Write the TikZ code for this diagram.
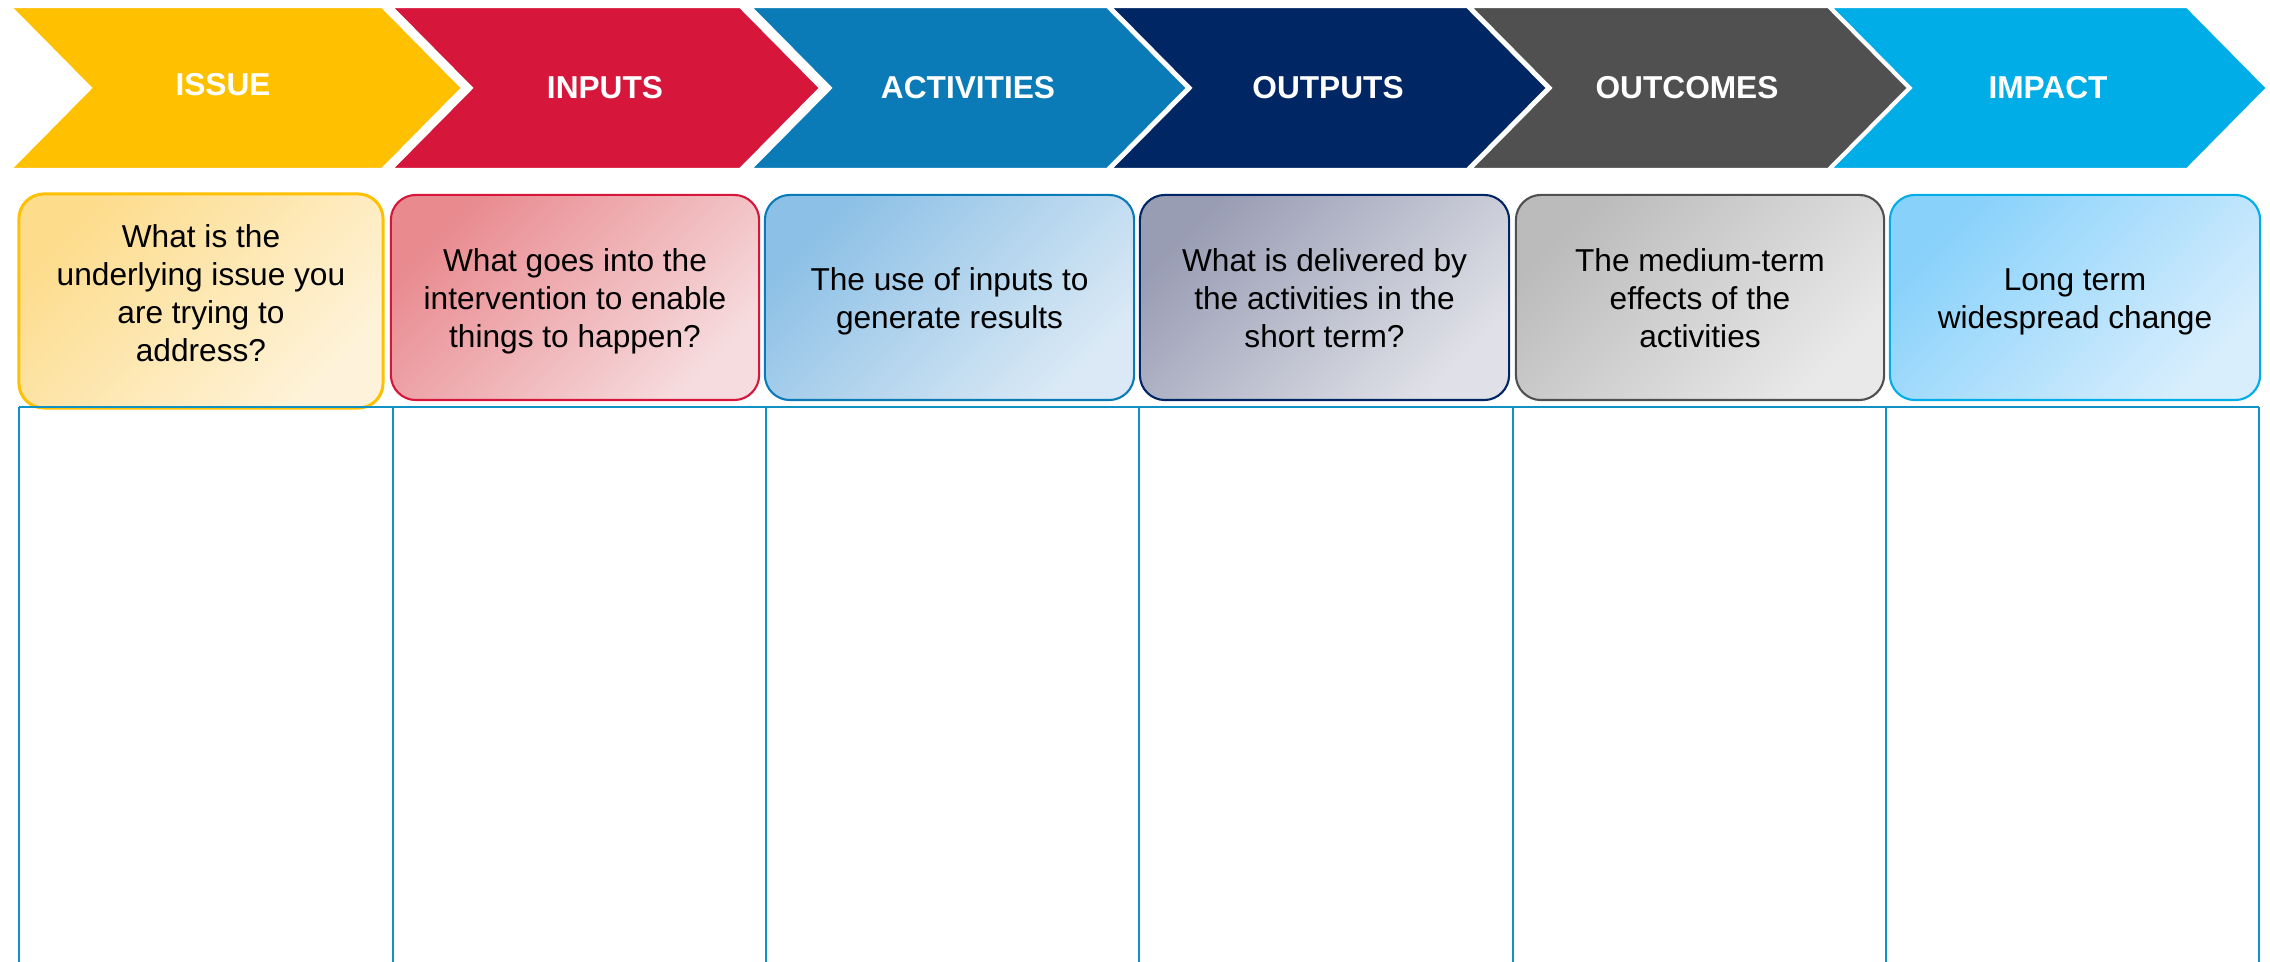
\documentclass[tikz,border=0pt]{standalone}
\usepackage{fontspec}
\setmainfont{Liberation Sans}

% stage colours
\definecolor{cIssue}{HTML}{FFC000}
\definecolor{cInputs}{HTML}{D6163B}
\definecolor{cActivities}{HTML}{0B7BB8}
\definecolor{cOutputs}{HTML}{002664}
\definecolor{cOutcomes}{HTML}{505050}
\definecolor{cImpact}{HTML}{00ADE6}
% card gradients (dark corner / light corner)
\definecolor{gIssueA}{HTML}{FDDC8C}
\definecolor{gIssueB}{HTML}{FEF3DA}
\definecolor{gInputsA}{HTML}{E98A8F}
\definecolor{gInputsB}{HTML}{F6DCDE}
\definecolor{gActivitiesA}{HTML}{8CC0E6}
\definecolor{gActivitiesB}{HTML}{DAE9F5}
\definecolor{gOutputsA}{HTML}{999DB4}
\definecolor{gOutputsB}{HTML}{E0E1E8}
\definecolor{gOutcomesA}{HTML}{BBBBBB}
\definecolor{gOutcomesB}{HTML}{E9E9E9}
\definecolor{gImpactA}{HTML}{87D1FB}
\definecolor{gImpactB}{HTML}{D8EEFD}
\definecolor{gridblue}{HTML}{1192C4}

% a chevron: #1 colour, #2 left edge, #3 right edge (before the point)
\newcommand{\stagechevron}[3]{%
  \fill[#1, draw=white, line width=0.6pt]
    (#2,7) -- (#3,7) -- ({#3+80},88) -- (#3,169) -- (#2,169) -- ({#2+80},88) -- cycle;}

\begin{document}
\begin{tikzpicture}[x=0.01cm, y=-0.01cm,
  head/.style={text=white, font=\fontsize{9}{10.8}\selectfont\bfseries,
               anchor=base, inner sep=0pt},
  card/.style={rounded corners=0.25cm, line width=0.6pt, inner sep=0pt,
               shade, shading angle=45},
  qtext/.style={font=\fontsize{9}{10.8}\selectfont, align=center,
                anchor=north, inner sep=0pt, text=black},
  grid/.style={draw=gridblue, line width=0.6pt}]

\useasboundingbox (0,0) rectangle (2270,962);

% ---- chevron band ----
\stagechevron{cIssue}{11}{382}
\stagechevron{cInputs}{392}{740}
\stagechevron{cActivities}{751}{1107}
\stagechevron{cOutputs}{1111}{1467}
\stagechevron{cOutcomes}{1471}{1828}
\stagechevron{cImpact}{1831}{2187}

\node[head] (hIssue)      at (223,96)   {ISSUE};
\node[head] (hInputs)     at (605,99)   {INPUTS};
\node[head] (hActivities) at (968,99)   {ACTIVITIES};
\node[head] (hOutputs)    at (1328,99)  {OUTPUTS};
\node[head] (hOutcomes)   at (1687,99)  {OUTCOMES};
\node[head] (hImpact)     at (2048,99)  {IMPACT};

% ---- question cards ----
\node[card, draw=cIssue, line width=0.85pt, top color=gIssueA, bottom color=gIssueB, shading angle=45,
      minimum width=3.64cm, minimum height=2.14cm] (b1) at (201,301) {};
\node[card, draw=cInputs, top color=gInputsA, bottom color=gInputsB, shading angle=45,
      minimum width=3.68cm, minimum height=2.05cm] (b2) at (575,297.5) {};
\node[card, draw=cActivities, top color=gActivitiesA, bottom color=gActivitiesB, shading angle=45,
      minimum width=3.69cm, minimum height=2.05cm] (b3) at (949.5,297.5) {};
\node[card, draw=cOutputs, top color=gOutputsA, bottom color=gOutputsB, shading angle=45,
      minimum width=3.69cm, minimum height=2.05cm] (b4) at (1324.5,297.5) {};
\node[card, draw=cOutcomes, top color=gOutcomesA, bottom color=gOutcomesB, shading angle=45,
      minimum width=3.68cm, minimum height=2.05cm] (b5) at (1700,297.5) {};
\node[card, draw=cImpact, top color=gImpactA, bottom color=gImpactB, shading angle=45,
      minimum width=3.70cm, minimum height=2.05cm] (b6) at (2075,297.5) {};

\node[qtext] (t1) at (201,224)    {What is the\\underlying issue you\\are trying to\\address?};
\node[qtext] (t2) at (575,248)    {What goes into the\\intervention to enable\\things to happen?};
\node[qtext] (t3) at (949.5,267)  {The use of inputs to\\generate results};
\node[qtext] (t4) at (1324.5,248) {What is delivered by\\the activities in the\\short term?};
\node[qtext] (t5) at (1700,248)   {The medium-term\\effects of the\\activities};
\node[qtext] (t6) at (2075,268)   {Long term\\widespread change};

% ---- open table below ----
\draw[grid] (19,407) -- (2259,407);
\foreach \gx in {19,393,766,1139,1513,1886,2259}
  \draw[grid] (\gx,407) -- (\gx,962);

\end{tikzpicture}
\end{document}
